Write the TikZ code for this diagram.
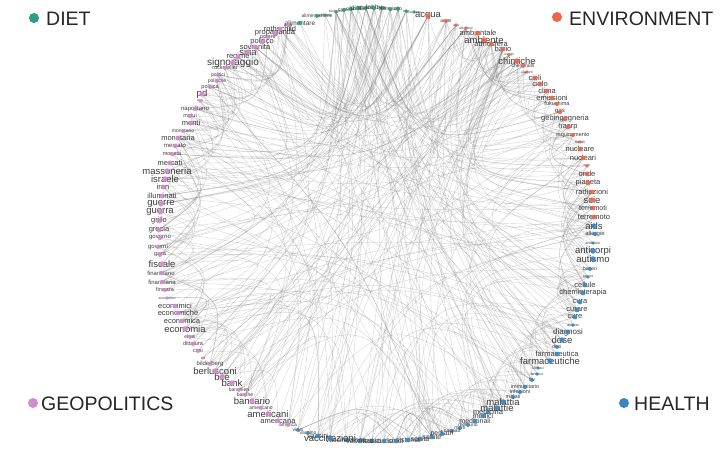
\documentclass[tikz,border=0pt]{standalone}
\usepackage{fontspec}
\setmainfont{Liberation Sans}
\usetikzlibrary{calc,backgrounds}
\definecolor{dietc}{HTML}{2E9C7D}
\definecolor{envc}{HTML}{F0654A}
\definecolor{healc}{HTML}{3B86C0}
\definecolor{geoc}{HTML}{D68BD0}
\definecolor{labc}{HTML}{2A2A2A}
\definecolor{edgec}{HTML}{808080}
\def\nodelist{%
300/23/alimentare/6.5/dietc,317/16/alimentazione/5/dietc,325/15/alimenti/3.5/dietc,336/12/biologico/3.5/dietc,
344/10/carne/5/dietc,351/9/cibo/5/dietc,358/8/dieta/6.5/dietc,366/8/glutine/5/dietc,374/8/lobby/6.5/dietc,
382/8/latte/5/dietc,390/9/mangiare/5/dietc,398/9/olio/5/dietc,406/11/sale/3.5/dietc,414/12/zucchero/3.5/dietc,
428/16/acqua/9.5/envc,446/21/aerei/5/envc,456/25/aria/3.5/envc,466/28/alluminio/3.5/envc,478/33/ambientale/7.5/envc,
484/40/ambiente/9.5/envc,491/44/atmosfera/7.5/envc,503/49/bario/7.5/envc,509/55/campi/3.5/envc,517/61/chimiche/9.5/envc,
523/66/chemtrails/5/envc,527/72/cianuro/3.5/envc,535/78/cieli/7.5/envc,540/84/cielo/7.5/envc,547/91/clima/7.5/envc,
552/98/emissioni/7.5/envc,557/104/fukushima/5.5/envc,560/112/gas/6/envc,565/119/geoingegneria/7.5/envc,568/127/haarp/7.5/envc,
573/135/inquinamento/5.5/envc,580/142/metalli/3.5/envc,580/149/nucleare/7.5/envc,583/158/nucleari/7.5/envc,587/166/ogm/3.5/envc,
587/174/onde/7.5/envc,588/183/pianeta/7.5/envc,592/192/radiazioni/7.5/envc,592/200/scie/9.5/envc,593/208/terremoti/7/envc,
594/217/terremoto/7.5/envc,
594/226/aids/9.5/healc,595/234/allergie/6/healc,593/243/antibiotici/3.5/healc,593/251/anticorpi/9.5/healc,593/259/autismo/9.5/healc,
590/269/batteri/5/healc,588/277/cancro/3.5/healc,585/285/cellule/7.5/healc,583/293/chemioterapia/7.5/healc,580/302/cura/7.5/healc,
577/310/curare/7.5/healc,575/317/cure/7.5/healc,573/325/diabete/3.5/healc,568/332/diagnosi/8/healc,562/340/dose/9.5/healc,
557/347/dosi/5/healc,557/354/farmaceutica/7.5/healc,550/361/farmaceutiche/9.5/healc,538/368/farmaci/3.5/healc,537/374/farmaco/3.5/healc,
532/380/hiv/5/healc,525/387/immunitario/5.5/healc,520/392/infezioni/5.5/healc,513/397/malati/5.5/healc,503/402/malattia/9.5/healc,
497/408/malattie/9.5/healc,488/412/medicina/7.5/healc,483/416/medici/7/healc,475/421/medicinali/7/healc,468/425/mercurio/5/healc,
460/428/morti/5/healc,452/431/neonati/5/healc,442/434/pediatri/7/healc,432/437/salute/7/healc,420/439/sanità/7/healc,
408/440/sistema/7/healc,396/441/studi/7/healc,384/441/studio/7/healc,372/441/tossici/7/healc,360/441/vaccinati/7/healc,
346/440/vaccinazione/7/healc,330/438/vaccinazioni/9.5/healc,318/436/vaccini/7/healc,308/433/vaccino/5/healc,298/430/virus/5/healc,
288/425/america/5/geoc,278/421/americana/7.5/geoc,268/414/americani/9.5/geoc,261/408/americano/5/geoc,252/401/bancario/9.5/geoc,
245/395/banche/5/geoc,239/390/banchieri/5/geoc,232/383/bank/9.5/geoc,222/377/bce/9.5/geoc,215/371/berlusconi/9.5/geoc,
210/364/bilderberg/6/geoc,203/358/cia/3.5/geoc,198/351/crisi/5.5/geoc,193/344/dittatura/5.5/geoc,190/337/ebrei/5/geoc,
185/329/economia/9.5/geoc,182/321/economica/7.5/geoc,178/313/economiche/7.5/geoc,175/306/economici/7.5/geoc,167/298/economico/3.5/geoc,
165/290/finanza/5.5/geoc,162/282/finanziaria/6/geoc,161/273/finanziario/6/geoc,162/264/fiscale/9.5/geoc,160/255/gaza/5.5/geoc,
158/247/governi/6/geoc,160/238/governo/6/geoc,159/230/grecia/7.5/geoc,159/221/grillo/7.5/geoc,160/212/guerra/9.5/geoc,
161/204/guerre/9.5/geoc,162/196/illuminati/7.5/geoc,163/187/iran/7.5/geoc,165/179/israele/9.5/geoc,167/171/massoneria/9.5/geoc,
170/163/mercati/7.5/geoc,172/154/moneta/5.5/geoc,175/146/mercato/6/geoc,178/138/monetaria/7.5/geoc,183/131/monetario/5/geoc,
191/123/monti/7.5/geoc,190/116/mutui/5.5/geoc,195/109/napolitano/6/geoc,200/101/onu/3.5/geoc,202/94/pd/9.5/geoc,
210/87/politica/5.5/geoc,217/81/politiche/5/geoc,218/75/politici/5/geoc,225/68/rockefeller/5.5/geoc,233/63/signoraggio/10/geoc,
238/57/regime/7.5/geoc,248/52/siria/9.5/geoc,255/47/sovranità/7.5/geoc,262/42/politico/7.5/geoc,268/37/potere/5.5/geoc,
275/33/propaganda/7.5/geoc,280/29/rothschild/7.5/geoc,288/25/usa/5/geoc}
\begin{document}
\begin{tikzpicture}[x=1pt,y=-1pt,
  edge/.style={draw=edgec,line width=0.4pt,opacity=0.32},
  lab/.style={text=labc,inner sep=0pt,opacity=0.92},
  legtext/.style={anchor=west,inner sep=0pt,text=black!85,font=\fontsize{19.5}{20}\selectfont},
  legdot/.style={circle,inner sep=0pt,minimum size=10pt}]
\useasboundingbox (0,0) rectangle (727,454);
\coordinate (C) at (380,227);
% nodes and labels
\foreach \x/\y/\t/\s/\c [count=\i] in \nodelist {
  \coordinate (n\i) at (\x,\y);
  \node[lab,font=\fontsize{\s}{\s}\selectfont] (l\i) at (\x,\y) {\t};
  \pgfmathsetmacro\rr{1.2+0.16*\s}
  \node[circle,fill=\c,inner sep=0pt,minimum size=2*\rr pt,opacity=0.9] (d\i) at (\x,\y) {};
}
% connectors
\begin{pgfonlayer}{background}
\pgfmathsetseed{4242}
\foreach \k in {1,...,80}{
  \pgfmathtruncatemacro\ea{random(4,13)}
  \pgfmathtruncatemacro\eb{random(15,148)}
  \draw[edge] (n\ea) .. controls ($(n\ea)!0.5!(n\eb)!0.55!(C)$) .. (n\eb);
}
\foreach \k in {1,...,60}{
  \pgfmathtruncatemacro\ea{random(15,24)}
  \pgfmathtruncatemacro\eb{random(30,148)}
  \draw[edge] (n\ea) .. controls ($(n\ea)!0.5!(n\eb)!0.55!(C)$) .. (n\eb);
}
\foreach \k in {1,...,130}{
  \pgfmathtruncatemacro\ea{random(15,84)}
  \pgfmathtruncatemacro\eb{min(\ea+random(3,14),90)}
  \draw[edge] (n\ea) .. controls ($(n\ea)!0.5!(n\eb)!0.16!(C)$) .. (n\eb);
}
\foreach \k in {1,...,70}{
  \pgfmathtruncatemacro\ea{random(91,140)}
  \pgfmathtruncatemacro\eb{min(\ea+random(3,14),148)}
  \draw[edge] (n\ea) .. controls ($(n\ea)!0.5!(n\eb)!0.2!(C)$) .. (n\eb);
}
\foreach \k in {1,...,170}{
  \pgfmathtruncatemacro\ea{random(1,148)}
  \pgfmathtruncatemacro\eb{random(1,148)}
  \ifnum\ea=\eb\else
  \draw[edge] (n\ea) .. controls ($(n\ea)!0.5!(n\eb)!0.55!(C)$) .. (n\eb);
  \fi
}
\end{pgfonlayer}
% legend
\node[legdot,fill=dietc] (ddiet) at (34,18) {};
\node[legtext] (tdiet) at (46,19) {DIET};
\node[legdot,fill=envc] (denv) at (557,17) {};
\node[legtext] (tenv) at (569,19) {ENVIRONMENT};
\node[legdot,fill=geoc] (dgeo) at (33,403) {};
\node[legtext] (tgeo) at (41,404) {GEOPOLITICS};
\node[legdot,fill=healc] (dheal) at (624,403) {};
\node[legtext] (theal) at (634,404) {HEALTH};
\end{tikzpicture}
\end{document}
